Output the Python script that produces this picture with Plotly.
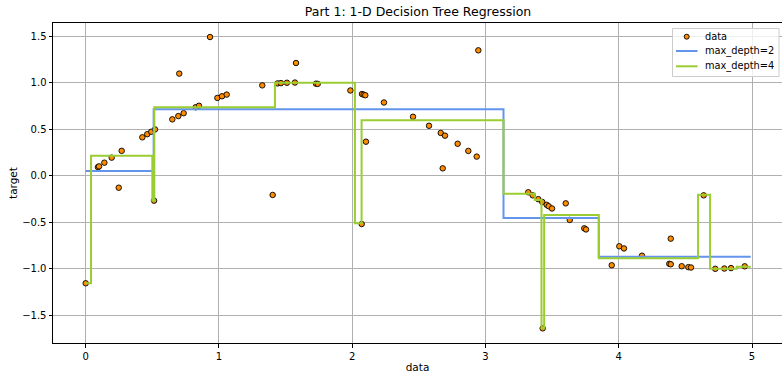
import plotly.graph_objects as go

# ---- data ----
data_x = [0.000, 0.092, 0.100, 0.140, 0.195, 0.248, 0.270, 0.425, 0.462, 0.492,
          0.513, 0.520, 0.650, 0.695, 0.702, 0.735, 0.825, 0.850, 0.933, 0.988,
          1.023, 1.058, 1.325, 1.403, 1.440, 1.465, 1.510, 1.570, 1.578, 1.728,
          1.741, 1.986, 2.071, 2.073, 2.086, 2.098, 2.103, 2.238, 2.456, 2.576,
          2.664, 2.679, 2.696, 2.791, 2.871, 2.934, 2.946, 3.321, 3.354, 3.396,
          3.426, 3.429, 3.459, 3.474, 3.499, 3.602, 3.632, 3.741, 3.754, 3.947,
          4.004, 4.039, 4.174, 4.379, 4.390, 4.390, 4.472, 4.522, 4.542, 4.637,
          4.724, 4.792, 4.842, 4.945]
data_y = [-1.155, 0.092, 0.100, 0.140, 0.194, -0.129, 0.267, 0.412, 0.446, 0.472,
          -0.268, 0.497, 0.605, 0.640, 1.096, 0.671, 0.735, 0.751, 1.489, 0.835,
          0.853, 0.871, 0.970, -0.207, 0.991, 0.994, 0.998, 1.000, 1.210, 0.988,
          0.986, 0.915, -0.519, 0.877, 0.870, 0.864, 0.365, 0.786, 0.633, 0.536,
          0.459, 0.079, 0.430, 0.343, 0.266, 0.205, 1.346, -0.178, -0.211, -0.252,
          -0.282, -1.639, -0.313, -0.328, -0.352, -0.297, -0.475, -0.565, -0.577, -0.962,
          -0.758, -0.781, -0.859, -0.946, -0.951, -0.676, -0.972, -0.982, -0.986, -0.211,
          -1.000, -0.997, -0.992, -0.973]

# step predictions: leaf start positions and leaf values
depth2_x = [0.0, 0.51, 3.135, 3.85, 4.99]
depth2_y = [0.05, 0.713, -0.454, -0.870, -0.870]

depth4_x = [0.0, 0.04, 0.50, 0.515, 1.42, 2.02, 2.07, 3.135, 3.37, 3.42, 3.44,
            3.85, 4.595, 4.685, 4.885, 4.99]
depth4_y = [-1.155, 0.215, -0.268, 0.734, 0.999, -0.511, 0.595, -0.193, -0.261,
            -1.639, -0.422, -0.887, -0.204, -1.000, -0.977, -0.977]

x_ticks = [0, 1, 2, 3, 4, 5]
y_ticks = [-1.5, -1.0, -0.5, 0.0, 0.5, 1.0, 1.5]
y_tick_text = ["\u22121.5", "\u22121.0", "\u22120.5", "0.0", "0.5", "1.0", "1.5"]

legend_labels = ["data", "max_depth=2", "max_depth=4"]

FONT = "DejaVu Sans"
W, H = 782, 373
ML, MR, MT, MB = 53, 0, 23, 30
PW, PH = W - ML - MR, H - MT - MB


def px_x(p):  # pixel -> paper x
    return (p - ML) / PW


def px_y(p):  # pixel -> paper y
    return (H - MB - p) / PH


fig = go.Figure()
fig.add_trace(go.Scatter(
    x=data_x, y=data_y, mode="markers", name=legend_labels[0],
    marker=dict(color="darkorange", size=5.5, line=dict(color="black", width=0.9)),
))
fig.add_trace(go.Scatter(
    x=depth2_x, y=depth2_y, mode="lines", name=legend_labels[1],
    line=dict(color="cornflowerblue", width=2, shape="hv"),
))
fig.add_trace(go.Scatter(
    x=depth4_x, y=depth4_y, mode="lines", name=legend_labels[2],
    line=dict(color="yellowgreen", width=2, shape="hv"),
))

axis_common = dict(
    showgrid=True, gridcolor="#b0b0b0", gridwidth=0.8,
    zeroline=False, showline=True, linecolor="black", linewidth=1, mirror=True,
    ticks="outside", ticklen=3.5, tickcolor="black", tickwidth=0.8,
    tickfont=dict(family=FONT, size=10, color="black"),
)

# ---- matplotlib-style legend box ----
shapes = [
    dict(type="rect", xref="paper", yref="paper",
         x0=px_x(672.5), x1=px_x(779), y0=px_y(28.5), y1=px_y(76.5),
         fillcolor="rgba(255,255,255,0.8)", line=dict(color="#cccccc", width=1)),
    dict(type="circle", xref="paper", yref="paper",
         x0=px_x(684.2), x1=px_x(689.2), y0=px_y(34.2), y1=px_y(39.2),
         fillcolor="darkorange", line=dict(color="black", width=0.9)),
    dict(type="line", xref="paper", yref="paper",
         x0=px_x(676), x1=px_x(697.5), y0=px_y(51), y1=px_y(51),
         line=dict(color="cornflowerblue", width=2)),
    dict(type="line", xref="paper", yref="paper",
         x0=px_x(676), x1=px_x(697.5), y0=px_y(66.3), y1=px_y(66.3),
         line=dict(color="yellowgreen", width=2)),
]
annotations = [
    dict(text=lab, xref="paper", yref="paper", x=px_x(703.5), y=px_y(yy),
         xanchor="left", yanchor="middle", showarrow=False, borderpad=0,
         font=dict(family=FONT, size=9.8, color="black"))
    for lab, yy in zip(legend_labels, [36.2, 51, 66.3])
]

fig.update_layout(
    width=W, height=H,
    margin=dict(l=ML, r=MR, t=MT, b=MB),
    paper_bgcolor="white", plot_bgcolor="white",
    font=dict(family=FONT, color="black"),
    title=dict(text="Part 1: 1-D Decision Tree Regression",
               x=418 / W, xanchor="center", y=1 - 12 / H, yanchor="middle",
               font=dict(family=FONT, size=12.5, color="black")),
    xaxis=dict(range=[-0.2453, 5.2247], tickvals=x_ticks,
               title=dict(text="data", font=dict(family=FONT, size=10.5), standoff=4),
               **axis_common),
    yaxis=dict(range=[-1.7965, 1.6396], tickvals=y_ticks, ticktext=y_tick_text,
               title=dict(text="target", font=dict(family=FONT, size=10.5), standoff=2),
               **axis_common),
    shapes=shapes,
    annotations=annotations,
    showlegend=False,
)

fig.write_html("out.html")
